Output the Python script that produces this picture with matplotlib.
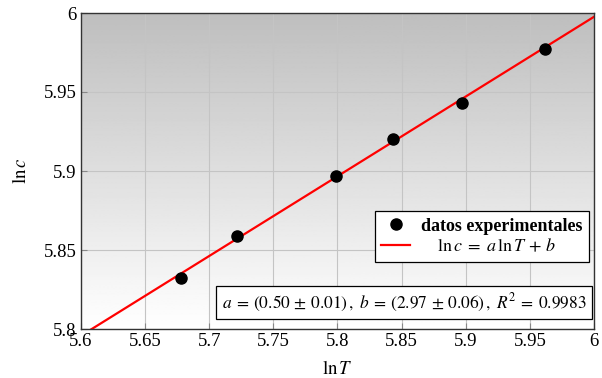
import numpy as np
import matplotlib.pyplot as plt

plt.rcParams["font.family"] = ["Liberation Serif", "DejaVu Serif"]
plt.rcParams["mathtext.fontset"] = "stix"

# data
ln_T = [5.678, 5.722, 5.799, 5.843, 5.897, 5.962]
ln_c = [5.832, 5.859, 5.897, 5.920, 5.943, 5.977]

# fitted line ln c = a ln T + b
a_fit = 0.5046
b_fit = 2.970

x_ticks = [5.6, 5.65, 5.7, 5.75, 5.8, 5.85, 5.9, 5.95, 6.0]
x_labels = ["5.6", "5.65", "5.7", "5.75", "5.8", "5.85", "5.9", "5.95", "6"]
y_ticks = [5.8, 5.85, 5.9, 5.95, 6.0]
y_labels = ["5.8", "5.85", "5.9", "5.95", "6"]

fig = plt.figure(figsize=(6.02, 3.78), dpi=100)
ax = fig.add_axes([81 / 602, 49 / 378, 513 / 602, 316 / 378])

ax.set_xlim(5.6, 6.0)
ax.set_ylim(5.8, 6.0)

# vertical grey gradient background (white at bottom, grey at top)
grad = np.linspace(1.0, 0.745, 256).reshape(-1, 1)
ax.imshow(grad, cmap="gray", vmin=0, vmax=1, aspect="auto", origin="lower",
          extent=[5.6, 6.0, 5.8, 6.0], zorder=0)

ax.set_xticks(x_ticks)
ax.set_xticklabels(x_labels)
ax.set_yticks(y_ticks)
ax.set_yticklabels(y_labels)
ax.tick_params(direction="in", length=4, color="#888888", labelsize=13.5,
               pad=3)
ax.grid(True, color="#c4c4c4", linewidth=0.8, zorder=1)
ax.set_axisbelow(False)

xl = np.array([5.6, 6.0])
ax.plot(xl, a_fit * xl + b_fit, color="#ff0000", linewidth=1.6, zorder=3,
        label=r"$\quad\;\ln c\;=\;a\,\ln T\,+\,b$")
ax.plot(ln_T, ln_c, "o", color="black", markersize=8, zorder=4,
        label="datos experimentales")

for s in ax.spines.values():
    s.set_color("#333333")
    s.set_linewidth(1.0)
    s.set_zorder(5)

ax.set_xlabel(r"$\ln T$", fontsize=13.5, labelpad=7)
ax.set_ylabel(r"$\ln c$", fontsize=13.5, labelpad=10)

handles, labels = ax.get_legend_handles_labels()
leg = ax.legend(handles[::-1], labels[::-1], loc="lower right",
                bbox_to_anchor=(0.990, 0.212), fontsize=13,
                frameon=True, fancybox=False, framealpha=1,
                edgecolor="black", borderpad=0.35, borderaxespad=0,
                handlelength=1.6, handletextpad=0.6, labelspacing=0.2)
leg.get_frame().set_linewidth(0.9)
leg.get_texts()[0].set_fontweight("bold")
leg.set_zorder(6)

ax.text(0.985, 0.048,
        r"$a\:=\:(0.50\,\pm\,0.01)\,,\;b\:=\:(2.97\,\pm\,0.06)\,,\;R^2\:=\:0.9983$",
        transform=ax.transAxes, ha="right", va="bottom", fontsize=12.5,
        zorder=6,
        bbox=dict(boxstyle="square,pad=0.3", facecolor="white",
                  edgecolor="black", linewidth=0.9))

fig.savefig("out.png", dpi=100)
